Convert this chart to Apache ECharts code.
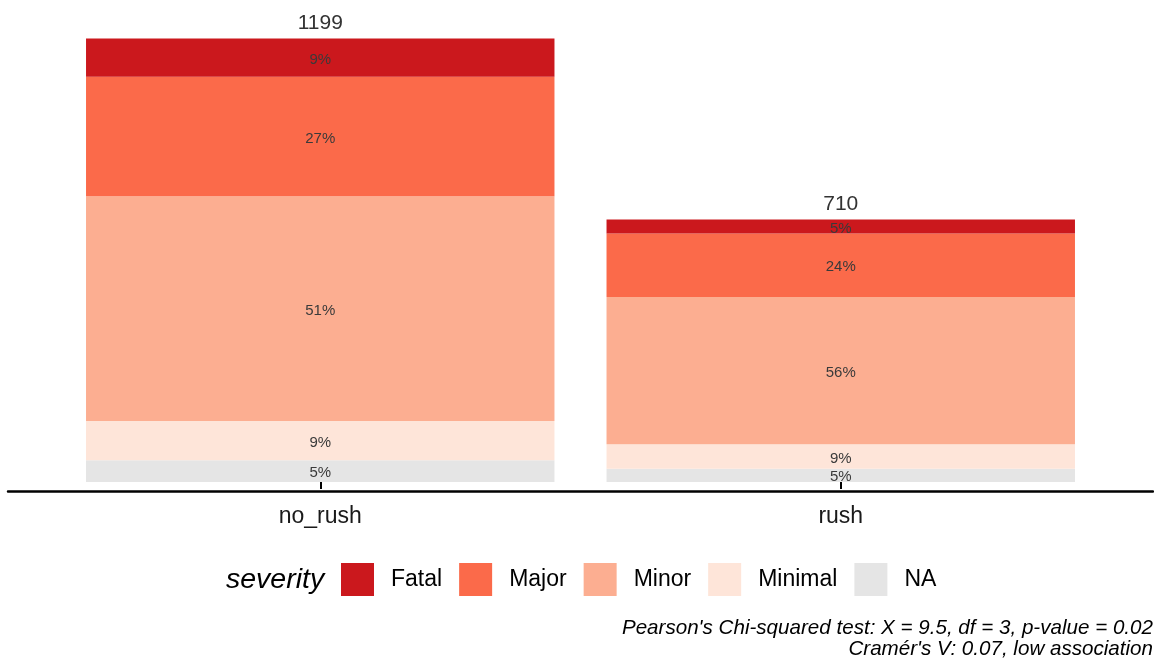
<!DOCTYPE html>
<html>
<head>
<meta charset="utf-8">
<title>severity by rush</title>
<script src="https://cdn.jsdelivr.net/npm/echarts@6/dist/echarts.min.js"></script>
<style>
  html, body { margin: 0; padding: 0; background: #ffffff; }
  #chart { width: 1154px; height: 664px; }
</style>
</head>
<body>
<div id="chart"></div>
<script>
// Groups along the x axis
const categories = ['no_rush', 'rush'];

// Severity levels, bottom of the stack first
const levels = ['NA', 'Minimal', 'Minor', 'Major', 'Fatal'];
const levelColors = {
  Fatal: '#CB181D',
  Major: '#FB6A4A',
  Minor: '#FCAE91',
  Minimal: '#FEE5D9',
  NA: '#E5E5E5'
};

// Counts per severity level for each group (no_rush, rush)
const countsNA      = [59, 36];
const countsMinimal = [106, 66];
const countsMinor   = [608, 398];
const countsMajor   = [323, 172];
const countsFatal   = [103, 38];

const countsByLevel = {
  NA: countsNA,
  Minimal: countsMinimal,
  Minor: countsMinor,
  Major: countsMajor,
  Fatal: countsFatal
};

// Group totals shown above each bar
const totals = categories.map((c, i) =>
  levels.reduce((s, lv) => s + countsByLevel[lv][i], 0));

const captionLines = [
  "Pearson's Chi-squared test: X = 9.5, df = 3, p-value = 0.02",
  "Cramér's V: 0.07, low association"
];

const FONT = '"Liberation Sans", Arial, sans-serif';

const series = levels.map(lv => ({
  name: lv,
  type: 'bar',
  stack: 'severity',
  barWidth: '90%',
  xAxisIndex: 0,
  yAxisIndex: 0,
  itemStyle: { color: levelColors[lv] },
  emphasis: { disabled: true },
  label: {
    show: true,
    position: 'inside',
    offset: [0, 2],
    fontFamily: FONT,
    fontSize: 15,
    color: '#3a3a3a',
    formatter: p => Math.round(countsByLevel[lv][p.dataIndex] / totals[p.dataIndex] * 100) + '%'
  },
  data: countsByLevel[lv]
}));

// Zero-height cap that carries the total label on top of each stack
series.push({
  name: 'total',
  type: 'bar',
  stack: 'severity',
  barWidth: '90%',
  xAxisIndex: 0,
  yAxisIndex: 0,
  itemStyle: { color: 'rgba(0,0,0,0)' },
  emphasis: { disabled: true },
  label: {
    show: true,
    position: 'top',
    distance: 5,
    fontFamily: FONT,
    fontSize: 21,
    color: '#333333',
    formatter: p => String(totals[p.dataIndex])
  },
  data: categories.map(() => 0)
});

const chart = echarts.init(document.getElementById('chart'), null, { renderer: 'canvas' });

const plotTop = 10;
const plotBottom = 173;

chart.setOption({
  animation: false,
  backgroundColor: '#ffffff',
  grid: [
    // bar panel: each category band is 1 unit, the panel keeps 0.6 unit of padding on each side
    { left: 60, right: 53, top: plotTop, bottom: plotBottom, containLabel: false },
    // full-width baseline
    { left: 8, right: 1, top: plotTop, bottom: plotBottom, containLabel: false }
  ],
  xAxis: [
    {
      type: 'category',
      gridIndex: 0,
      data: categories,
      splitLine: { show: false },
      axisLine: { show: false },
      axisTick: { show: true, alignWithLabel: true, length: 7, lineStyle: { color: '#000000', width: 2 } },
      axisLabel: {
        show: true,
        fontFamily: FONT,
        fontSize: 23,
        color: '#1a1a1a',
        margin: 14
      }
    },
    {
      type: 'value',
      gridIndex: 1,
      min: 0,
      max: 1,
      splitLine: { show: false },
      axisLine: { show: true, onZero: false, lineStyle: { color: '#000000', width: 2.5 } },
      axisTick: { show: false },
      axisLabel: { show: false }
    }
  ],
  yAxis: [
    { type: 'value', gridIndex: 0, min: -24.3, max: 1276.4, show: false, splitLine: { show: false } },
    { type: 'value', gridIndex: 1, min: 0, max: 1, show: false, splitLine: { show: false } }
  ],
  legend: {
    data: ['Fatal', 'Major', 'Minor', 'Minimal', 'NA'],
    left: 341,
    top: 563,
    padding: 0,
    itemWidth: 33,
    itemHeight: 33,
    itemGap: 17,
    icon: 'rect',
    selectedMode: false,
    textStyle: {
      fontFamily: FONT,
      fontSize: 23,
      color: '#000000',
      padding: [0, 0, 0, 12]
    }
  },
  graphic: [
    {
      type: 'text',
      left: 226,
      top: 566,
      style: {
        text: 'severity',
        fontFamily: FONT,
        fontSize: 28.5,
        fontStyle: 'italic',
        fill: '#000000'
      }
    },
    {
      type: 'text',
      right: 1,
      top: 618,
      style: {
        text: captionLines[0],
        fontFamily: FONT,
        fontSize: 20.6,
        fontStyle: 'italic',
        fill: '#000000'
      }
    },
    {
      type: 'text',
      right: 1,
      top: 639,
      style: {
        text: captionLines[1],
        fontFamily: FONT,
        fontSize: 20.6,
        fontStyle: 'italic',
        fill: '#000000'
      }
    }
  ],
  series: series
});
</script>
</body>
</html>
